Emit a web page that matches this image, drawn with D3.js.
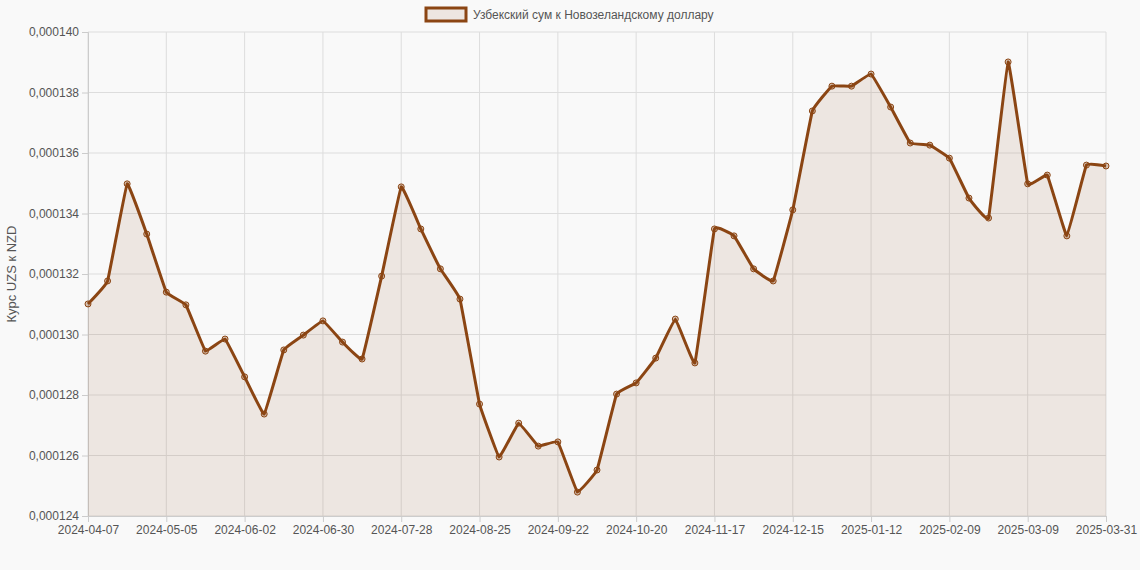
<!DOCTYPE html>
<html><head><meta charset="utf-8">
<script src="https://cdn.jsdelivr.net/npm/d3@7"></script>
<style>body{margin:0;background:#f9f9f9;font-family:Arial,"Liberation Sans",sans-serif}</style>
</head><body><svg id="c" width="1140" height="570"></svg>
<script>
const startDate = "2024-04-07";
const lastDate = "2025-03-31";
const values = [131.01,131.77,134.98,133.32,131.40,130.98,129.45,129.85,128.60,127.37,129.49,129.98,130.45,129.75,129.19,131.93,134.88,133.49,132.17,131.17,127.70,125.95,127.07,126.31,126.45,124.79,125.52,128.03,128.40,129.22,130.51,129.06,133.49,133.26,132.17,131.77,134.12,137.39,138.21,138.21,138.61,137.52,136.33,136.26,135.83,134.51,133.85,139.01,134.98,135.27,133.26,135.60,135.57].map(v=>v*1e-6);
const yTicks = [0.000124,0.000126,0.000128,0.000130,0.000132,0.000134,0.000136,0.000138,0.000140];
const seriesName = "Узбекский сум к Новозеландскому доллару";
const yTitle = "Курс UZS к NZD";

const fmt = d3.utcFormat("%Y-%m-%d");
const s0 = new Date(startDate+"T00:00:00Z");
const dates = values.map((v,i)=> i===values.length-1 ? lastDate : fmt(d3.utcDay.offset(s0,7*i)));
const data = dates.map((d,i)=>({d,v:values[i]}));

const svg = d3.select("#c");
const m = {l:88,r:34,t:32,b:54};
const W=1140,H=570;
const x = d3.scalePoint().domain(dates).range([m.l,W-m.r]);
const y = d3.scaleLinear().domain([0.000124,0.000140]).range([H-m.b,m.t]);

const tickDates = dates.filter((d,i)=>i%4===0 && i<dates.length-2).concat([lastDate]);
const g = svg.append("g");
g.selectAll(".gx").data(tickDates).join("line").attr("x1",d=>x(d)).attr("x2",d=>x(d)).attr("y1",m.t).attr("y2",H-m.b).attr("stroke","#ddd");
g.selectAll(".gy").data(yTicks).join("line").attr("x1",m.l).attr("x2",W-m.r).attr("y1",d=>y(d)).attr("y2",d=>y(d)).attr("stroke","#ddd");

const fmtY = v => v.toFixed(6).replace(".",",");
const yAx = svg.append("g").attr("transform",`translate(${m.l},0)`).call(d3.axisLeft(y).tickValues(yTicks).tickFormat(fmtY).tickSize(6));
yAx.selectAll("text").attr("fill","#555").style("font-size","12px");
yAx.selectAll("line,path").attr("stroke","#ccc");
const xAx = svg.append("g").attr("transform",`translate(0,${H-m.b})`).call(d3.axisBottom(x).tickValues(tickDates).tickSize(6));
xAx.selectAll("text").attr("fill","#555").style("font-size","12px");
xAx.selectAll("line,path").attr("stroke","#ccc");

const curve = d3.curveCardinal.tension(0.8);
svg.append("path").datum(data).attr("fill","rgba(139,69,19,0.1)")
  .attr("d",d3.area().x(d=>x(d.d)).y0(y(0.000124)).y1(d=>y(d.v)).curve(curve));
svg.append("path").datum(data).attr("fill","none").attr("stroke","#8B4513").attr("stroke-width",3)
  .attr("d",d3.line().x(d=>x(d.d)).y(d=>y(d.v)).curve(curve));
svg.selectAll(".pt").data(data).join("circle").attr("cx",d=>x(d.d)).attr("cy",d=>y(d.v)).attr("r",3)
  .attr("fill","rgba(139,69,19,0.3)").attr("stroke","#8B4513").attr("stroke-width",1);

svg.append("text").attr("transform",`translate(16,${(m.t+H-m.b)/2}) rotate(-90)`).attr("text-anchor","middle")
  .attr("fill","#555").style("font-size","13px").text(yTitle);
svg.append("rect").attr("x",426).attr("y",8).attr("width",40).attr("height",13).attr("fill","rgba(139,69,19,0.1)").attr("stroke","#8B4513").attr("stroke-width",3);
svg.append("text").attr("x",473).attr("y",19).attr("fill","#555").style("font-size","12px").text(seriesName);
</script></body></html>
